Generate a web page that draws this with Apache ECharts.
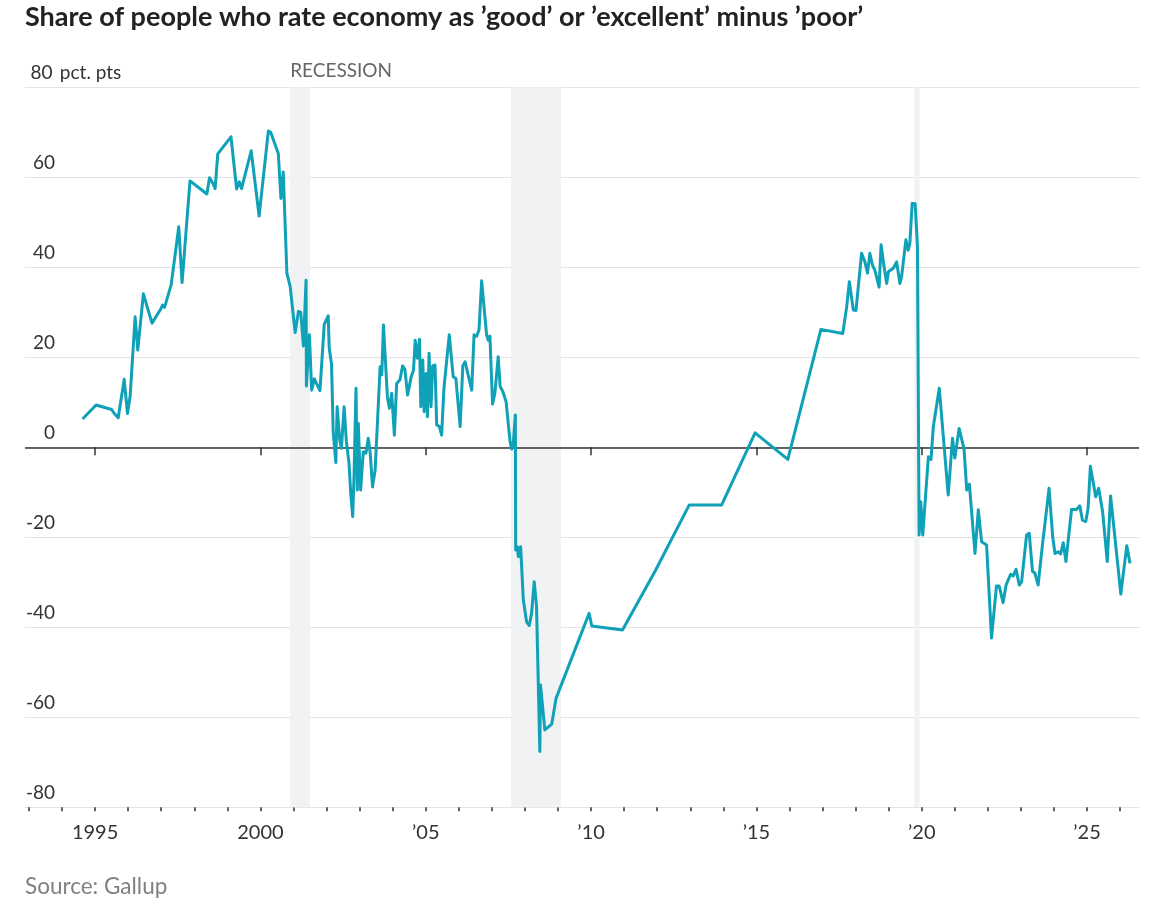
<!DOCTYPE html>
<html>
<head>
<meta charset="utf-8">
<script src="https://cdn.jsdelivr.net/npm/echarts@6/dist/echarts.min.js"></script>
<style>
  html, body { margin: 0; padding: 0; background: #fff; }
  #chart { width: 1170px; height: 912px; }
</style>
</head>
<body>
<div id="chart"></div>
<script>
// ---- data (decimal year, value in pct. pts) ----
const dates = [
  1994.62,1995.03,1995.50,1995.58,1995.70,1995.88,1995.98,1996.06,1996.21,1996.29,
  1996.46,1996.72,1997.00,1997.04,1997.10,1997.30,1997.53,1997.63,1997.87,1998.38,
  1998.46,1998.56,1998.63,1998.71,1999.11,1999.28,1999.36,1999.43,1999.72,1999.96,
  2000.24,2000.31,2000.54,2000.62,2000.69,2000.80,2000.90,2001.05,2001.15,2001.22,
  2001.30,2001.38,2001.39,2001.48,2001.55,2001.63,2001.80,2001.93,2002.05,2002.08,
  2002.15,2002.20,2002.28,2002.32,2002.40,2002.45,2002.53,2002.60,2002.68,2002.73,
  2002.79,2002.83,2002.89,2002.93,2002.96,2003.03,2003.11,2003.19,2003.26,2003.32,
  2003.39,2003.47,2003.62,2003.67,2003.72,2003.84,2003.90,2003.97,2004.05,2004.12,
  2004.22,2004.30,2004.37,2004.45,2004.56,2004.63,2004.68,2004.75,2004.81,2004.85,
  2004.91,2004.95,2005.01,2005.05,2005.10,2005.16,2005.21,2005.28,2005.33,2005.41,
  2005.48,2005.55,2005.71,2005.83,2005.91,2006.04,2006.12,2006.19,2006.39,2006.46,
  2006.54,2006.61,2006.69,2006.84,2006.89,2006.94,2007.02,2007.09,2007.19,2007.25,
  2007.33,2007.43,2007.48,2007.55,2007.60,2007.65,2007.71,2007.72,2007.77,2007.80,
  2007.87,2007.95,2008.05,2008.13,2008.20,2008.28,2008.35,2008.45,2008.47,2008.60,
  2008.81,2008.94,2009.94,2010.02,2010.95,2011.93,2012.97,2013.95,2014.96,2015.95,
  2016.95,2017.61,2017.73,2017.81,2017.86,2017.93,2018.01,2018.18,2018.28,2018.36,
  2018.43,2018.51,2018.58,2018.71,2018.77,2018.86,2018.94,2018.99,2019.14,2019.24,
  2019.34,2019.39,2019.52,2019.59,2019.64,2019.71,2019.80,2019.87,2019.92,2019.97,
  2020.03,2020.20,2020.28,2020.35,2020.53,2020.80,2020.93,2021.00,2021.13,2021.28,
  2021.36,2021.44,2021.61,2021.71,2021.81,2021.96,2022.11,2022.26,2022.34,2022.46,
  2022.55,2022.69,2022.77,2022.85,2022.95,2023.02,2023.17,2023.25,2023.35,2023.42,
  2023.52,2023.65,2023.85,2023.96,2024.03,2024.13,2024.20,2024.28,2024.36,2024.53,
  2024.68,2024.78,2024.86,2024.96,2025.03,2025.10,2025.26,2025.35,2025.47,2025.61,
  2025.71,2025.77,2026.02,2026.20,2026.30
];
const values = [
  6.3,9.4,8.4,7.5,6.6,15.1,7.5,11.4,29.0,21.6,
  34.1,27.6,30.9,31.6,31.1,36.1,49.0,36.6,59.2,56.3,
  59.9,58.7,57.5,65.2,69.0,57.4,59.0,57.5,65.9,51.4,
  70.3,70.0,65.3,55.3,61.2,38.7,35.7,25.5,30.2,30.0,
  22.5,37.1,13.6,25.0,12.7,15.2,12.6,27.3,29.2,22.0,
  18.5,3.5,-3.4,9.0,1.6,-0.2,9.0,1.2,-3.6,-10.2,
  -15.4,-6.5,13.1,-9.5,5.3,-9.5,-1.0,-1.3,2.0,-1.3,
  -8.8,-5.0,17.9,16.1,27.2,11.2,8.7,12.0,2.7,14.2,
  15.0,18.1,17.3,11.6,15.7,17.2,23.8,19.8,24.0,9.0,
  19.4,7.9,16.4,6.8,20.9,9.0,18.1,18.3,5.0,4.6,
  2.7,13.1,25.0,15.7,15.3,4.6,18.1,19.0,12.7,25.0,
  24.7,26.1,37.0,25.0,23.8,24.7,9.6,12.0,20.1,13.5,
  12.4,10.1,9.9,1.2,-0.4,1.2,7.2,-22.8,-22.1,-24.3,
  -22.1,-33.9,-38.8,-39.6,-36.9,-29.9,-35.4,-67.6,-52.8,-62.8,
  -61.5,-55.8,-36.9,-39.7,-40.6,-27.6,-12.8,-12.8,3.2,-2.7,
  26.2,25.3,31.2,36.8,37.2,30.5,30.4,43.1,41.2,38.7,
  43.1,40.5,39.4,35.6,45.0,40.1,36.4,39.0,39.8,41.2,
  36.4,37.9,46.1,43.8,45.3,54.2,54.1,44.6,-19.5,-12.1,
  -19.5,-2.1,-2.7,4.6,13.1,-10.6,2.0,-2.4,4.2,-0.4,
  -9.5,-8.2,-23.6,-13.9,-21.0,-21.7,-42.4,-30.8,-30.8,-34.5,
  -30.6,-28.2,-28.6,-27.1,-30.6,-29.9,-19.5,-19.1,-27.6,-27.9,
  -30.6,-21.7,-9.1,-19.9,-23.6,-23.2,-23.7,-21.2,-25.4,-13.8,
  -13.8,-13.0,-16.2,-16.5,-13.6,-4.2,-11.0,-9.1,-14.3,-25.4,
  -10.8,-11.0,-32.6,-21.9,-25.8
];
// recession periods (start, end) in decimal years
const recessions = [[2000.90, 2001.50], [2007.58, 2009.09], [2019.78, 2019.93]];
const majorTicks = [1995, 2000, 2005, 2010, 2015, 2020, 2025];
const minorTicks = [1993,1994,1995,1996,1997,1998,1999,2000,2001,2002,2003,2004,2005,2006,2007,2008,2009,2010,
                    2011,2012,2013,2014,2015,2016,2017,2018,2019,2020,2021,2022,2023,2024,2025,2026];

const chart = echarts.init(document.getElementById('chart'), null, { renderer: 'canvas' });
const seriesData = dates.map((d, i) => [d, values[i]]);
const LABEL_FONT = "Lato, 'Noto Sans', sans-serif";
const XMIN = 1992.88, XMAX = 2026.57;

const option = {
  animation: false,
  backgroundColor: '#ffffff',
  title: [
    {
      text: 'Share of people who rate economy as \u2019good\u2019 or \u2019excellent\u2019 minus \u2019poor\u2019',
      left: 25, top: 4, padding: 0,
      textStyle: { fontFamily: LABEL_FONT, fontWeight: 'bold', fontSize: 27, color: '#222' }
    },
    {
      text: 'Source: Gallup',
      left: 25, top: 875, padding: 0,
      textStyle: { fontFamily: LABEL_FONT, fontWeight: 'normal', fontSize: 22.5, color: '#808080' }
    }
  ],
  grid: { left: 25, right: 31, top: 87.3, bottom: 104.7, containLabel: false },
  xAxis: [
    {
      type: 'value', min: XMIN, max: XMAX, position: 'bottom',
      axisLine: { show: false },
      splitLine: { show: false },
      axisTick: { show: true, customValues: majorTicks, length: 8, lineStyle: { color: '#333', width: 1.5 } },
      axisLabel: {
        show: true, customValues: majorTicks, margin: 15,
        fontFamily: LABEL_FONT, fontSize: 20, color: '#333',
        formatter: v => (v < 2005 ? String(v) : '\u2019' + String(v).slice(2))
      }
    },
    {
      type: 'value', min: XMIN, max: XMAX, position: 'bottom',
      axisLine: { show: false },
      splitLine: { show: false },
      axisTick: { show: true, customValues: minorTicks, length: 4, lineStyle: { color: '#333', width: 1.5 } },
      axisLabel: { show: false }
    }
  ],
  yAxis: {
    type: 'value', min: -80, max: 80, interval: 20,
    axisLine: { show: false },
    axisTick: { show: false },
    splitLine: { show: true, lineStyle: { color: '#e3e3e3', width: 1.2 } },
    axisLabel: {
      inside: true, margin: 3, align: 'left', verticalAlign: 'bottom',
      formatter: v => (v === 80 ? '{n|80}{u| pct. pts}' : '{n|' + v + '}'),
      rich: {
        n: { width: 27, align: 'right', fontFamily: LABEL_FONT, fontSize: 19, color: '#333', lineHeight: 28 },
        u: { fontFamily: LABEL_FONT, fontSize: 19, color: '#333', lineHeight: 28 }
      }
    }
  },
  series: [
    {
      type: 'line',
      data: seriesData,
      xAxisIndex: 0,
      showSymbol: false,
      symbol: 'none',
      lineStyle: { color: '#0fa1b7', width: 3, join: 'round' },
      z: 5,
      markArea: {
        silent: true,
        itemStyle: { color: '#f0f2f4' },
        label: { show: false },
        data: recessions.map((r, i) => [
          {
            xAxis: r[0],
            label: i === 0 ? {
              show: true, position: [0, -26], align: 'left',
              formatter: 'RECESSION', fontFamily: LABEL_FONT, fontSize: 19, color: '#666'
            } : { show: false }
          },
          { xAxis: r[1] }
        ])
      },
      markLine: {
        silent: true, symbol: 'none',
        label: { show: false },
        lineStyle: { color: '#333', width: 1.5, type: 'solid' },
        data: [{ yAxis: 0 }]
      }
    }
  ]
};
chart.setOption(option);
</script>
</body>
</html>
